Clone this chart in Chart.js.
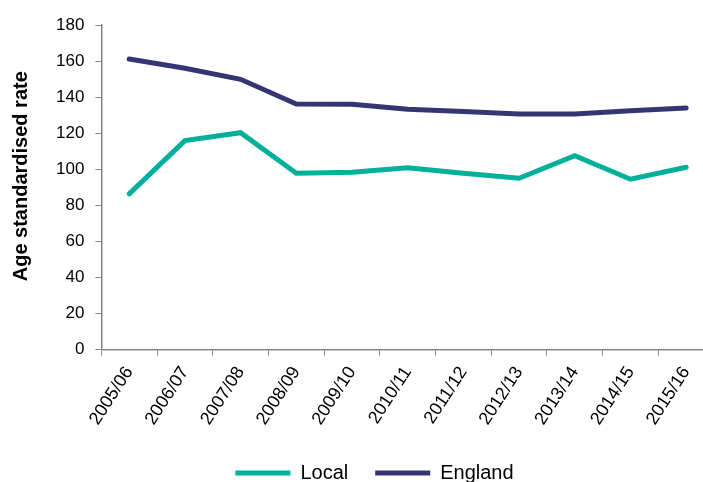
<!DOCTYPE html>
<html>
<head>
<meta charset="utf-8">
<script src="https://cdn.jsdelivr.net/npm/chart.js@4"></script>
<style>
  html, body { margin: 0; padding: 0; background: #fff; overflow: hidden; }
  #wrap { width: 750px; height: 482px; }
</style>
</head>
<body>
<div id="wrap"><canvas id="rateChart"></canvas></div>
<script>
  // Chart data
  const years = ['2005/06', '2006/07', '2007/08', '2008/09', '2009/10', '2010/11',
                 '2011/12', '2012/13', '2013/14', '2014/15', '2015/16'];
  const localRate = [86.4, 115.9, 120.3, 97.8, 98.3, 100.9, 97.8, 95.0, 107.6, 94.5, 101.1];
  const englandRate = [161.1, 156.0, 149.9, 136.2, 136.0, 133.3, 132.0, 130.7, 130.7, 132.5, 134.0];

  Chart.defaults.font.family = 'Arial, "Liberation Sans", sans-serif';
  Chart.defaults.color = '#000';

  // nudge the legend a bit to the right, like the original
  const shiftLegend = {
    id: 'shiftLegend',
    afterLayout(chart) {
      chart.legend.left += 13;
      chart.legend.right += 13;
    }
  };

  const ctx = document.getElementById('rateChart').getContext('2d');

  const rateChart = new Chart(ctx, {
    type: 'line',
    data: {
      labels: years,
      datasets: [
        {
          label: 'Local',
          data: localRate,
          borderColor: '#00b09b',
          backgroundColor: '#00b09b',
          borderWidth: 5,
          borderCapStyle: 'round',
          pointRadius: 0,
          tension: 0
        },
        {
          label: 'England',
          data: englandRate,
          borderColor: '#343673',
          backgroundColor: '#343673',
          borderWidth: 5,
          borderCapStyle: 'round',
          pointRadius: 0,
          tension: 0
        }
      ]
    },
    plugins: [shiftLegend],
    options: {
      responsive: true,
      maintainAspectRatio: false,
      animation: false,
      layout: {
        padding: { top: 25, right: 36, left: 9, bottom: -11 }
      },
      plugins: {
        legend: {
          position: 'bottom',
          labels: {
            usePointStyle: true,
            pointStyle: 'line',
            pointStyleWidth: 55,
            boxHeight: 5,
            padding: 27,
            font: { size: 20 }
          }
        },
        tooltip: { enabled: false }
      },
      scales: {
        x: {
          offset: true,
          grid: {
            offset: true,
            drawOnChartArea: false,
            color: '#868686',
            tickLength: 6
          },
          border: { color: '#868686', width: 1.5 },
          ticks: {
            minRotation: 57,
            maxRotation: 57,
            padding: 7,
            font: { size: 18 }
          }
        },
        y: {
          min: 0,
          max: 180,
          grid: {
            drawOnChartArea: false,
            color: '#868686',
            tickLength: 6
          },
          border: { color: '#868686', width: 1.5 },
          ticks: {
            stepSize: 20,
            padding: 11,
            font: { size: 17 }
          },
          title: {
            display: true,
            // leading spaces lift the title a little above the axis centre
            text: '    Age standardised rate',
            font: { size: 20, weight: 'bold' },
            padding: { top: 0, bottom: 12 }
          }
        }
      }
    }
  });
</script>
</body>
</html>
